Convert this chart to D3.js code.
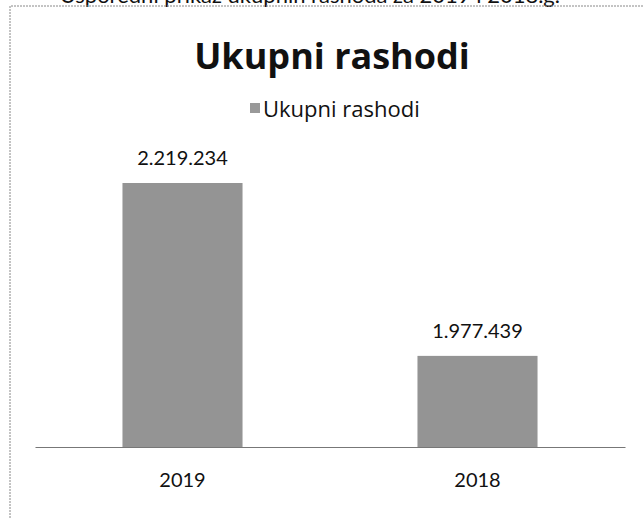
<!DOCTYPE html>
<html>
<head>
<meta charset="utf-8">
<script src="https://cdn.jsdelivr.net/npm/d3@7"></script>
<style>
  body { margin: 0; background: #fff; }
  svg { display: block; }
</style>
</head>
<body>
<div id="chart"></div>
<script>
// podaci
const categories = ['2019', '2018'];
const values = [2219234, 1977439];
const seriesName = 'Ukupni rashodi';
const yDomain = [1850000, 2250000];

const width = 643, height = 519;
const font = 'Lato, "Open Sans", sans-serif';
const titleFont = '"Open Sans", Lato, sans-serif';
const fmt = v => d3.format(',')(v).replace(/,/g, '.');

const svg = d3.select('#chart').append('svg')
  .attr('width', width)
  .attr('height', height);

// odrezani tekst iznad okvira (skeniran dokument)
svg.append('text')
  .attr('x', 560)
  .attr('y', 3)
  .attr('text-anchor', 'end')
  .style('font-family', font)
  .style('font-size', '22px')
  .style('fill', '#111')
  .text('Usporedni prikaz ukupnih rashoda za 2019 i 2018.g.');

// okvir grafikona
svg.append('path')
  .attr('d', 'M10,560 L10,6 L660,6')
  .attr('fill', 'none')
  .attr('stroke', '#888')
  .attr('stroke-width', 1)
  .attr('stroke-dasharray', '2,1');

// naslov
svg.append('text')
  .attr('x', 332)
  .attr('y', 69)
  .attr('text-anchor', 'middle')
  .style('font-family', titleFont)
  .style('font-weight', 'bold')
  .style('font-size', '36px')
  .style('fill', '#111')
  .text(seriesName);

// legenda
const legend = svg.append('g').attr('transform', 'translate(250,103)');
legend.append('rect')
  .attr('width', 10)
  .attr('height', 10)
  .attr('fill', '#999');
legend.append('text')
  .attr('x', 13)
  .attr('y', 14)
  .style('font-family', titleFont)
  .style('font-size', '22px')
  .style('fill', '#111')
  .text(seriesName);

// skale
const x = d3.scaleBand()
  .domain(categories)
  .range([35, 625])
  .paddingInner(0.593)
  .paddingOuter(0.2965);

const y = d3.scaleLinear()
  .domain(yDomain)
  .range([447, 161]);

const data = categories.map((c, i) => ({ cat: c, value: values[i] }));

// stupci
svg.selectAll('.bar')
  .data(data)
  .enter()
  .append('rect')
  .attr('class', 'bar')
  .attr('x', d => x(d.cat))
  .attr('y', d => y(d.value))
  .attr('width', x.bandwidth())
  .attr('height', d => y(yDomain[0]) - y(d.value))
  .attr('fill', '#949494');

// os x
const xAxis = svg.append('g')
  .attr('transform', `translate(0,${y(yDomain[0])})`)
  .call(d3.axisBottom(x).tickSize(0).tickPadding(26));
xAxis.select('.domain')
  .attr('stroke', '#777')
  .attr('stroke-width', 1.2);
xAxis.selectAll('text')
  .style('font-family', font)
  .style('font-size', '20px')
  .style('fill', '#111');

// oznake vrijednosti
svg.selectAll('.label')
  .data(data)
  .enter()
  .append('text')
  .attr('class', 'label')
  .attr('x', d => x(d.cat) + x.bandwidth() / 2)
  .attr('y', d => y(d.value) - 18)
  .attr('text-anchor', 'middle')
  .style('font-family', font)
  .style('font-size', '20px')
  .style('fill', '#111')
  .text(d => fmt(d.value));
</script>
</body>
</html>
